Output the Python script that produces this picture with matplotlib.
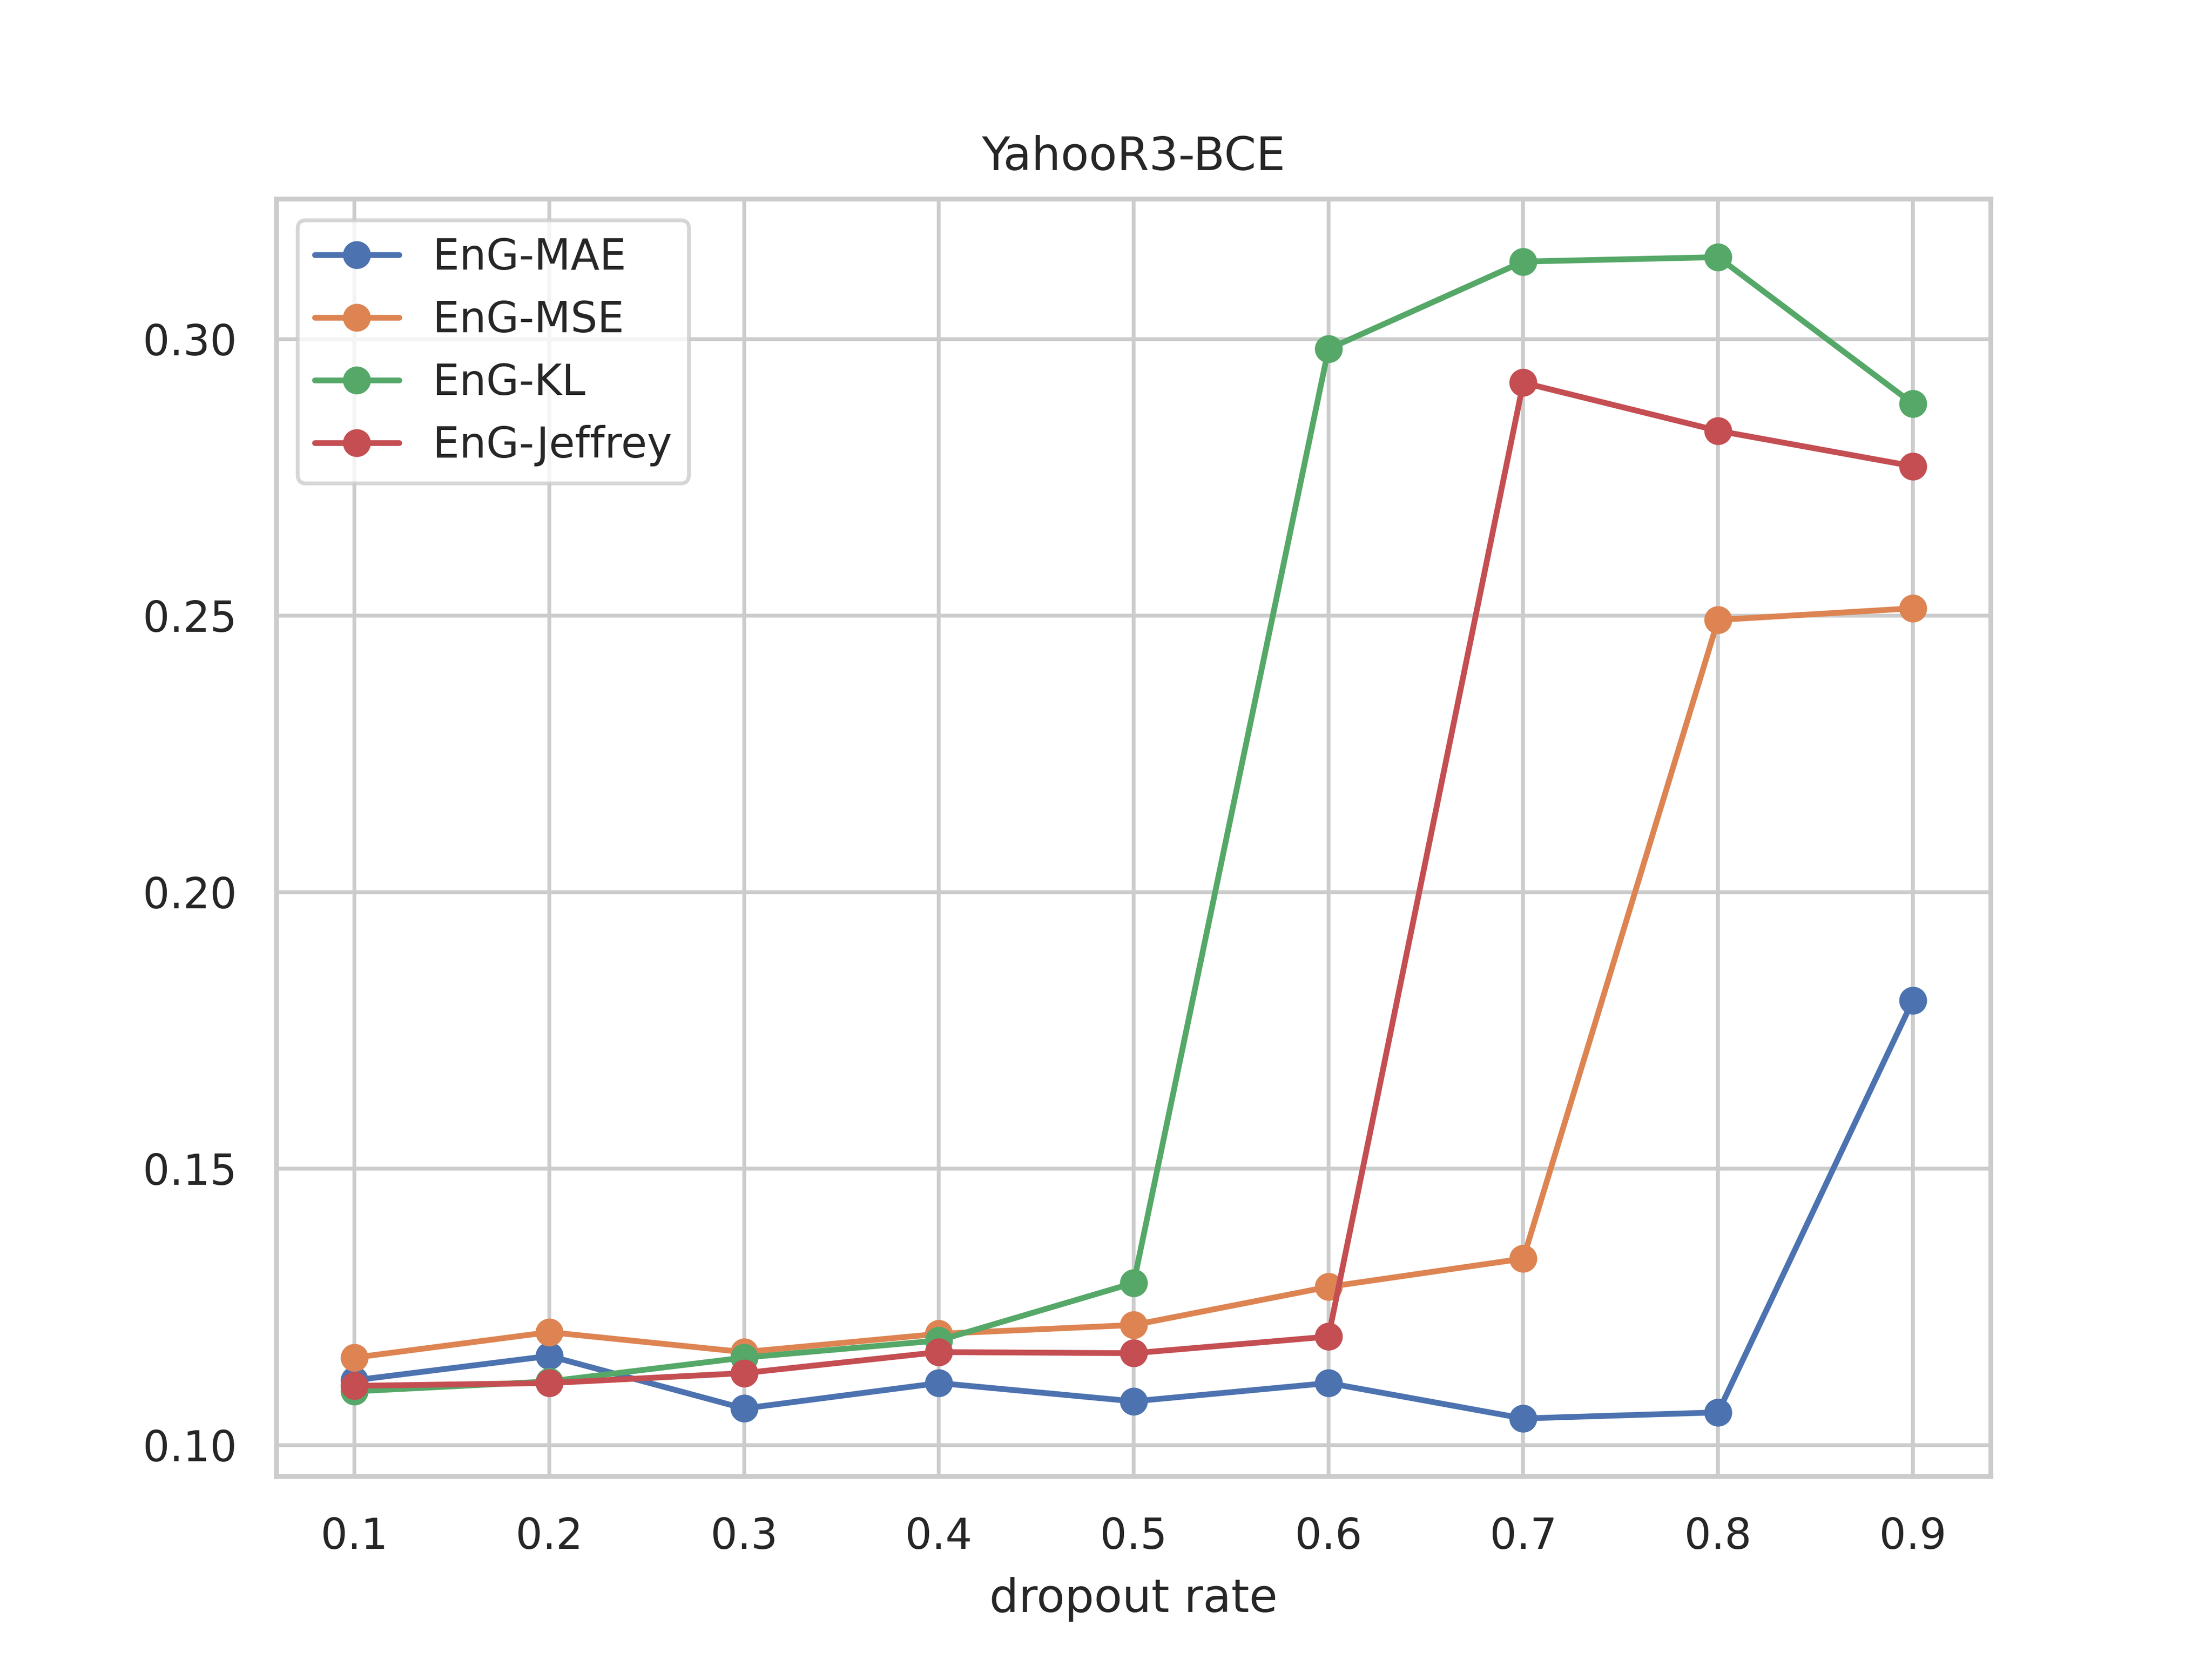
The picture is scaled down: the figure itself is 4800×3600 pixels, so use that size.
import matplotlib
matplotlib.use("Agg")
import matplotlib.pyplot as plt
import seaborn as sns

sns.set_theme(context="paper", style="whitegrid")
plt.rcParams['font.family'] = ['DejaVu Sans']

dropout = [0.1, 0.2, 0.3, 0.4, 0.5, 0.6, 0.7, 0.8, 0.9]
mae = [0.1117, 0.1161, 0.1066, 0.1112, 0.1079, 0.1112, 0.1048, 0.1059, 0.1804]
mse = [0.1158, 0.1204, 0.1168, 0.1201, 0.1217, 0.1286, 0.1337, 0.2492, 0.2513]
kl = [0.1097, 0.1115, 0.1158, 0.1189, 0.1293, 0.2982, 0.3140, 0.3148, 0.2883]
jeffrey = [0.1107, 0.1112, 0.1130, 0.1168, 0.1166, 0.1196, 0.2921, 0.2834, 0.2770]

series = [("EnG-MAE", mae), ("EnG-MSE", mse), ("EnG-KL", kl), ("EnG-Jeffrey", jeffrey)]

fig, ax = plt.subplots(figsize=(6.4, 4.8), dpi=750)
for name, vals in series:
    ax.plot(dropout, vals, marker='o', label=name)
ax.set_xticks(dropout)
ax.set_xticklabels([f"{d:.1f}" for d in dropout])
ax.set_xlabel("dropout rate")
ax.set_title("YahooR3-BCE")
ax.legend(loc="upper left")
fig.savefig("out.png", dpi=750)
